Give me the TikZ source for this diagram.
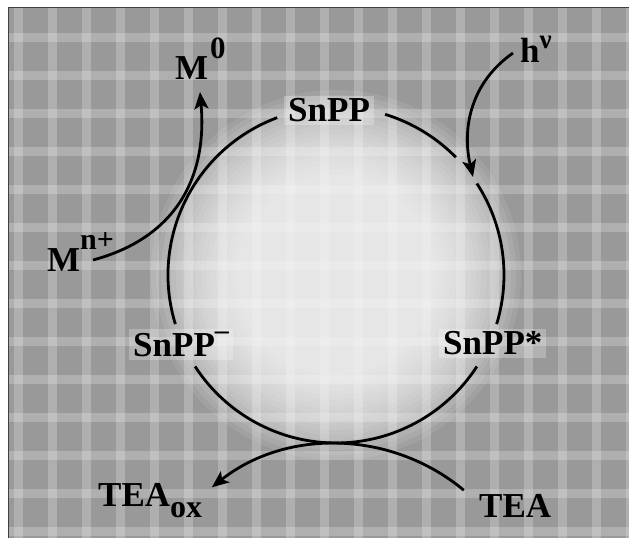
\documentclass[tikz,border=0pt]{standalone}
\usepackage{fontspec}
\setmainfont{Liberation Serif}
\usetikzlibrary{arrows.meta,calc}
\definecolor{bggray}{gray}{0.6}
\tikzset{
  lab/.style={inner sep=0pt, font=\fontsize{35}{40}\selectfont\bfseries},
  halo/.style={fill=white, fill opacity=0.25, text opacity=1, inner xsep=4pt, inner ysep=3pt},
  ring/.style={line width=2.8pt, black},
  arr/.style={line width=2.8pt, black, -{Stealth[length=17pt,width=14pt,inset=4pt]}},
  plaid/.style={white, opacity=0.22, line width=9pt},
  glowlayer/.style={white, opacity=0.085},
  framed/.style={black!75, line width=1pt}
}
\newcommand\raisedtext[3]{\raisebox{#1}{\fontsize{#2}{#2}\selectfont #3}}
\begin{document}
\begin{tikzpicture}[x=1pt,y=1pt]
\useasboundingbox (0,0) rectangle (629,538);
\coordinate (C) at (336,263);
% background
\begin{scope}
  \clip (8,0) rectangle (629,530);
  \fill[bggray] (8,0) rectangle (629,530);
  \foreach \x in {18,52,...,640} \draw[plaid] (\x,0) -- (\x,538);
  \foreach \y in {6,44,...,540} \draw[plaid] (0,\y) -- (629,\y);
  \foreach \r in {185,180,...,100} \fill[glowlayer] (C) circle (\r);
\end{scope}
\draw[framed] (8,0) -- (8,530) -- (629,530);

% cycle
\draw[ring] (C) ++(44.5:168) arc[start angle=44.5,end angle=73,radius=168];
\draw[ring] (C) ++(110.5:168) arc[start angle=110.5,end angle=197,radius=168];
\draw[ring] (C) ++(213:168) arc[start angle=213,end angle=327,radius=168];
\draw[ring] (C) ++(-17:168) arc[start angle=-17,end angle=33,radius=168];

% labels
\node[lab, halo, anchor=base west] (snpp) at (284,416) {SnPP};
\node[lab, halo, anchor=base west] (snppstar) at (439,183) {SnPP*};
\node[lab, halo, anchor=base west] (snppminus) at (129,181) {SnPP\raisedtext{17pt}{28}{–}};
\node[lab, anchor=base west] (m0) at (175,458) {M\kern2pt\raisedtext{21pt}{31}{0}};
\node[lab, anchor=base west] (hv) at (520,475) {h\raisedtext{14pt}{27}{ν}};
\node[lab, anchor=base west] (mn) at (47,266) {M\raisedtext{22pt}{30}{n+}};
\node[lab, anchor=base west] (teaox) at (98,31) {TEA\raisebox{-11pt}{\fontsize{32}{32}\selectfont ox}};
\node[lab, anchor=base west] (tea) at (479,20) {TEA};

% connector ends
\coordinate (mstart) at (93,278);
\coordinate (m0tip) at (200,446);
\coordinate (hvstart) at (513,485);
\coordinate (hvtip) at (473,361);
\coordinate (teastart) at (463.8,47.8);

\draw[arr] (mstart) to[out=15,in=-85,looseness=1.1] (m0tip);
\draw[arr] (hvstart) to[out=215,in=103] (hvtip);
\draw[arr] (teastart) arc[start angle=50.3,end angle=128.4,radius=200];
\end{tikzpicture}
\end{document}
